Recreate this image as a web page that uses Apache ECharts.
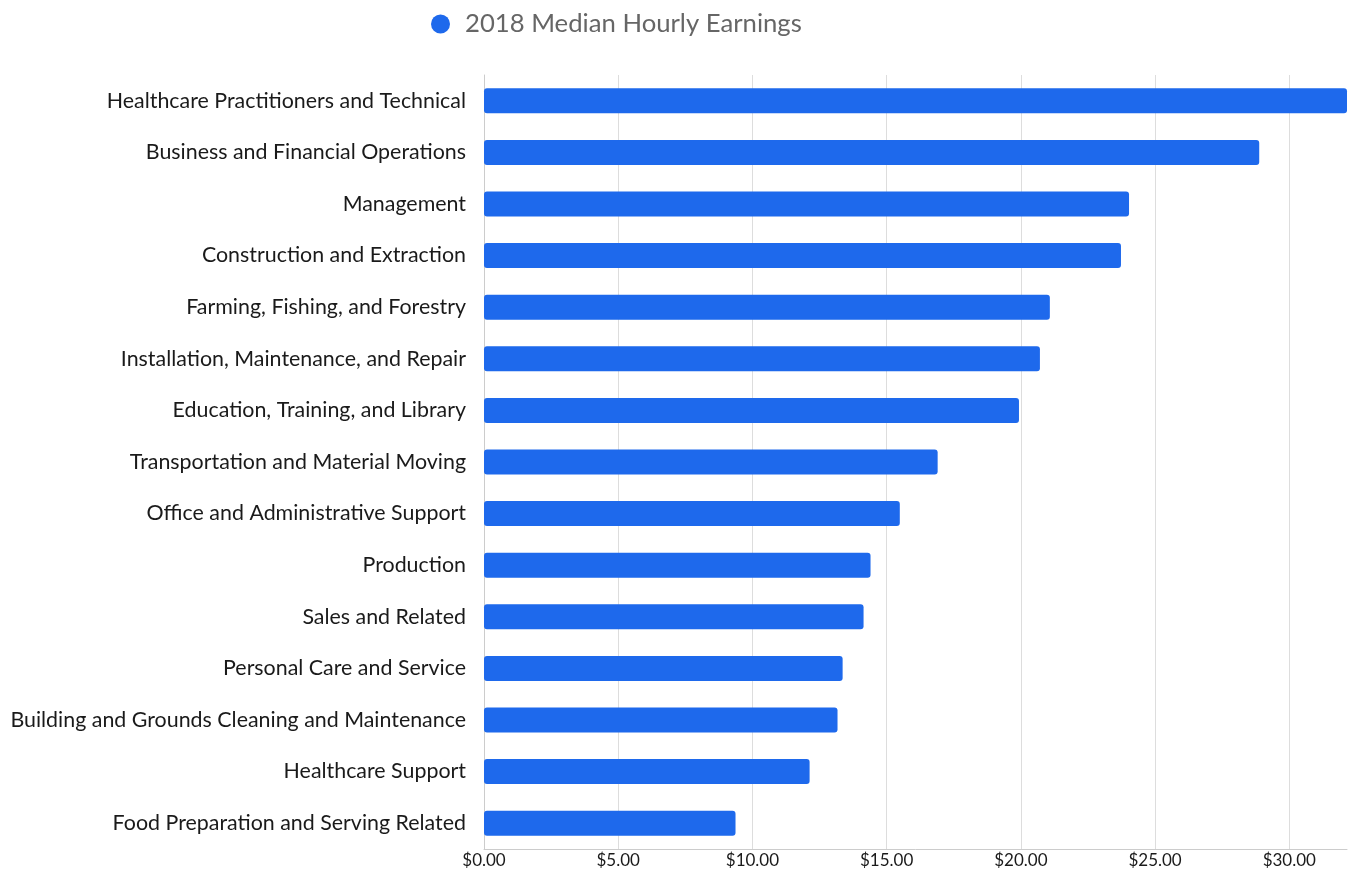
<!DOCTYPE html>
<html>
<head>
<meta charset="utf-8">
<script src="https://cdn.jsdelivr.net/npm/echarts@6/dist/echarts.min.js"></script>
<style>
html,body{margin:0;padding:0;background:#fff;}
#chart{width:1355px;height:876px;}
</style>
</head>
<body>
<div id="chart"></div>
<script>
// occupation groups, top to bottom
var occupations = [
    'Healthcare Practitioners and Technical',
    'Business and Financial Operations',
    'Management',
    'Construction and Extraction',
    'Farming, Fishing, and Forestry',
    'Installation, Maintenance, and Repair',
    'Education, Training, and Library',
    'Transportation and Material Moving',
    'Office and Administrative Support',
    'Production',
    'Sales and Related',
    'Personal Care and Service',
    'Building and Grounds Cleaning and Maintenance',
    'Healthcare Support',
    'Food Preparation and Serving Related'
];
var earnings = [32.15, 28.88, 24.03, 23.73, 21.08, 20.71, 19.93, 16.90, 15.49, 14.40, 14.14, 13.36, 13.17, 12.13, 9.37];
var seriesName = '2018 Median Hourly Earnings';

var chart = echarts.init(document.getElementById('chart'));
var font = 'Lato, "Open Sans", sans-serif';

option = {
    animation: false,
    textStyle: {fontFamily: font},
    legend: {
        top: 6,
        left: 426,
        icon: 'circle',
        itemWidth: 19,
        itemHeight: 19,
        textStyle: {fontSize: 25.7, color: '#666', fontFamily: font, padding: [0, 0, 0, 10]},
        data: [seriesName]
    },
    grid: {
        left: 484,
        right: 8,
        top: 75,
        bottom: 27,
        containLabel: false
    },
    xAxis: {
        type: 'value',
        min: 0,
        max: 'dataMax',
        interval: 5,
        axisLine: {show: true, lineStyle: {color: '#ccc'}},
        axisTick: {show: false},
        axisLabel: {
            fontSize: 17,
            color: '#1a1a1a',
            fontFamily: font,
            margin: 3,
            showMaxLabel: false,
            formatter: function (v) { return '$' + v.toFixed(2); }
        },
        splitLine: {show: true, showMaxLine: false, lineStyle: {color: '#ddd', width: 1}}
    },
    yAxis: {
        type: 'category',
        inverse: true,
        data: occupations,
        axisLine: {show: true, lineStyle: {color: '#ccc'}},
        axisTick: {show: false},
        axisLabel: {fontSize: 21.4, color: '#1a1a1a', fontFamily: font, margin: 18, padding: [2, 0, 0, 0]}
    },
    series: [{
        name: seriesName,
        type: 'bar',
        data: earnings,
        barWidth: 25,
        itemStyle: {color: '#1e69ec', borderRadius: 3}
    }]
};
chart.setOption(option);
</script>
</body>
</html>
